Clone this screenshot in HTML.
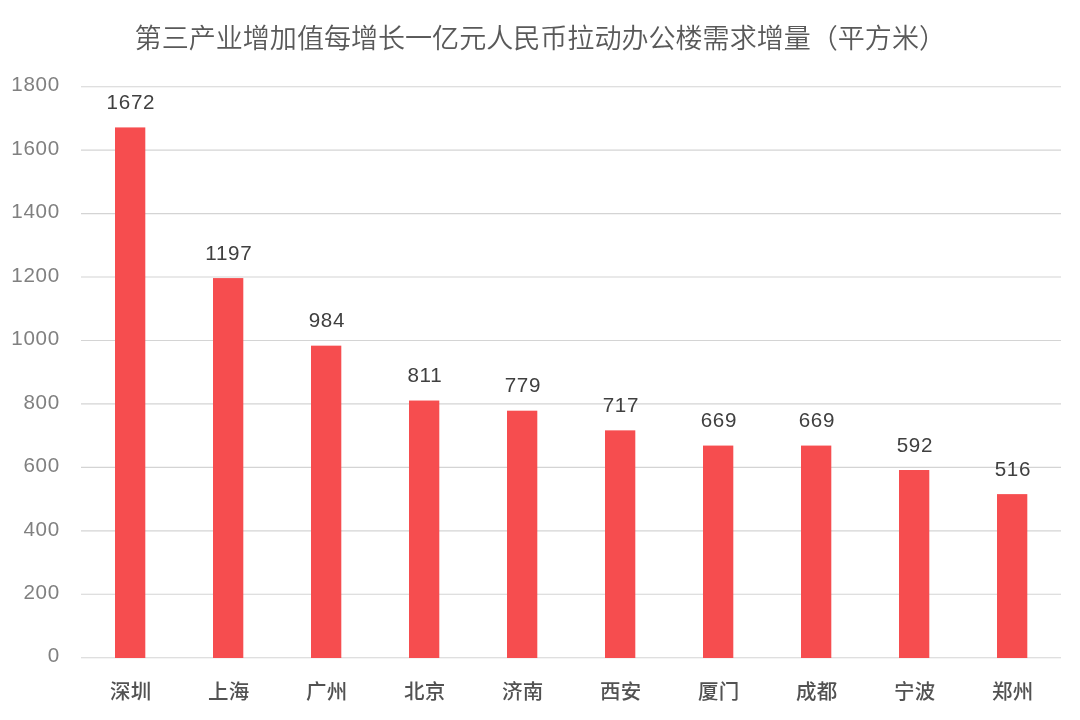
<!DOCTYPE html>
<html lang="zh-CN"><head><meta charset="utf-8"><title>第三产业增加值每增长一亿元人民币拉动办公楼需求增量</title>
<style>
html,body{margin:0;padding:0;background:#fff;}
body{width:1080px;height:720px;overflow:hidden;position:relative;font-family:"Liberation Sans","Noto Sans CJK SC",sans-serif;}
svg{display:block;position:absolute;left:0;top:0;}
.title{font-size:27.05px;fill:#595959;font-weight:350;}
.ytick{font-size:20.6px;fill:#808080;letter-spacing:0.75px;}
.val{font-size:20.6px;fill:#404040;letter-spacing:0.7px;}
.cat{font-size:20.5px;fill:#525252;font-weight:500;letter-spacing:0.3px;}
.grid{stroke:#d4d4d4;stroke-width:1.15;}
.bar{fill:#f64d4f;}
</style></head><body>
<svg width="1080" height="720" viewBox="0 0 1080 720" font-family="'Liberation Sans','Noto Sans CJK SC',sans-serif">
<rect width="1080" height="720" fill="#ffffff"/>
<text class="title" x="134.6" y="47.6">第三产业增加值每增长一亿元人民币拉动办公楼需求增量（平方米）</text>

<line class="grid" x1="81" x2="1061" y1="657.70" y2="657.70"/>
<text class="ytick" x="60.0" y="662.40" text-anchor="end">0</text>
<line class="grid" x1="81" x2="1061" y1="594.26" y2="594.26"/>
<text class="ytick" x="60.0" y="598.96" text-anchor="end">200</text>
<line class="grid" x1="81" x2="1061" y1="530.81" y2="530.81"/>
<text class="ytick" x="60.0" y="535.51" text-anchor="end">400</text>
<line class="grid" x1="81" x2="1061" y1="467.37" y2="467.37"/>
<text class="ytick" x="60.0" y="472.07" text-anchor="end">600</text>
<line class="grid" x1="81" x2="1061" y1="403.93" y2="403.93"/>
<text class="ytick" x="60.0" y="408.63" text-anchor="end">800</text>
<line class="grid" x1="81" x2="1061" y1="340.49" y2="340.49"/>
<text class="ytick" x="60.0" y="345.19" text-anchor="end">1000</text>
<line class="grid" x1="81" x2="1061" y1="277.04" y2="277.04"/>
<text class="ytick" x="60.0" y="281.74" text-anchor="end">1200</text>
<line class="grid" x1="81" x2="1061" y1="213.60" y2="213.60"/>
<text class="ytick" x="60.0" y="218.30" text-anchor="end">1400</text>
<line class="grid" x1="81" x2="1061" y1="150.16" y2="150.16"/>
<text class="ytick" x="60.0" y="154.86" text-anchor="end">1600</text>
<line class="grid" x1="81" x2="1061" y1="86.71" y2="86.71"/>
<text class="ytick" x="60.0" y="91.41" text-anchor="end">1800</text>
<rect class="bar" x="115.0" y="127.42" width="30.3" height="530.58"/>
<text class="val" x="130.9" y="109.22" text-anchor="middle">1672</text>
<text class="cat" x="130.8" y="699" text-anchor="middle">深圳</text>
<rect class="bar" x="213.0" y="278.09" width="30.3" height="379.91"/>
<text class="val" x="228.9" y="259.89" text-anchor="middle">1197</text>
<text class="cat" x="228.8" y="699" text-anchor="middle">上海</text>
<rect class="bar" x="311.0" y="345.66" width="30.3" height="312.34"/>
<text class="val" x="326.9" y="327.46" text-anchor="middle">984</text>
<text class="cat" x="326.8" y="699" text-anchor="middle">广州</text>
<rect class="bar" x="409.0" y="400.54" width="30.3" height="257.46"/>
<text class="val" x="424.9" y="382.34" text-anchor="middle">811</text>
<text class="cat" x="424.8" y="699" text-anchor="middle">北京</text>
<rect class="bar" x="507.0" y="410.69" width="30.3" height="247.31"/>
<text class="val" x="522.9" y="392.49" text-anchor="middle">779</text>
<text class="cat" x="522.8" y="699" text-anchor="middle">济南</text>
<rect class="bar" x="605.0" y="430.36" width="30.3" height="227.64"/>
<text class="val" x="620.9" y="412.16" text-anchor="middle">717</text>
<text class="cat" x="620.8" y="699" text-anchor="middle">西安</text>
<rect class="bar" x="703.0" y="445.58" width="30.3" height="212.42"/>
<text class="val" x="718.9" y="427.38" text-anchor="middle">669</text>
<text class="cat" x="718.8" y="699" text-anchor="middle">厦门</text>
<rect class="bar" x="801.0" y="445.58" width="30.3" height="212.42"/>
<text class="val" x="816.9" y="427.38" text-anchor="middle">669</text>
<text class="cat" x="816.8" y="699" text-anchor="middle">成都</text>
<rect class="bar" x="899.0" y="470.01" width="30.3" height="187.99"/>
<text class="val" x="914.9" y="451.81" text-anchor="middle">592</text>
<text class="cat" x="914.8" y="699" text-anchor="middle">宁波</text>
<rect class="bar" x="997.0" y="494.12" width="30.3" height="163.88"/>
<text class="val" x="1012.9" y="475.92" text-anchor="middle">516</text>
<text class="cat" x="1012.8" y="699" text-anchor="middle">郑州</text>
</svg>
</body></html>
